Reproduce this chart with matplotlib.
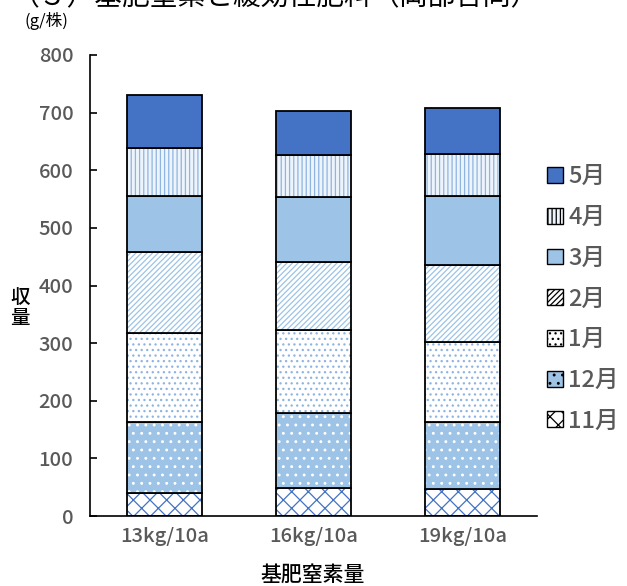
import matplotlib
matplotlib.use("Agg")
import matplotlib.pyplot as plt
from matplotlib.patches import Patch

plt.rcParams['font.family'] = ['Noto Sans CJK JP', 'DejaVu Sans']
plt.rcParams['hatch.linewidth'] = 0.9

# データ（g/株）
categories = ["13kg/10a", "16kg/10a", "19kg/10a"]
months = ["11月", "12月", "1月", "2月", "3月", "4月", "5月"]
m11 = [40, 49, 47]
m12 = [123, 130, 116]
m01 = [155, 144, 139]
m02 = [141, 118, 134]
m03 = [97, 113, 120]
m04 = [82, 73, 72]
m05 = [92, 76, 80]
series = [m11, m12, m01, m02, m03, m04, m05]

# 塗りとハッチ（面色, ハッチ, ハッチ色）
styles = [
    ("white", "xx", "#4472C4"),
    ("#9DC3E6", "..", "white"),
    ("white", "...", "#8FB4E0"),
    ("white", "//////", "#9DC3E6"),
    ("#9DC3E6", None, None),
    ("#EEF4FB", "||||", "#8FB4E0"),
    ("#4472C4", None, None),
]

fig = plt.figure(figsize=(6.27, 5.86), dpi=100)
ax = fig.add_axes([90 / 627, 1 - 516 / 586, 447 / 627, 461 / 586])

x = list(range(len(categories)))
bottom = [0] * len(categories)
handles = []
for name, vals, (fc, hatch, hc) in zip(months, series, styles):
    # ハッチ色を別に指定するため二回描く
    ax.bar(x, vals, 0.5, bottom=bottom, color=fc, hatch=hatch,
           edgecolor=hc if hc else fc, linewidth=0)
    ax.bar(x, vals, 0.5, bottom=bottom, fill=False, edgecolor="black", linewidth=1.3)
    bottom = [b + v for b, v in zip(bottom, vals)]
    handles.append(Patch(facecolor=fc, hatch=hatch, edgecolor="black", linewidth=1))

ax.set_xlim(-0.5, 2.5)
ax.set_ylim(0, 800)
ax.set_yticks(range(0, 801, 100))
ax.set_xticks(x)
ax.set_xticklabels(categories)
ax.spines['top'].set_visible(False)
ax.spines['right'].set_visible(False)
ax.spines['left'].set_linewidth(1.2)
ax.spines['bottom'].set_linewidth(1.2)
ax.tick_params(axis='y', direction='in', length=5, width=1.2, colors='black',
               labelcolor='#595959', labelsize=14.5, pad=12)
ax.tick_params(axis='x', length=0, labelcolor='#595959', labelsize=14.5, pad=8)
for lbl in ax.get_xticklabels() + ax.get_yticklabels():
    lbl.set_fontweight('medium')

fig.text(20 / 627, 1 - 308 / 586, "収\n量", fontsize=14, ha='center', va='center',
         linespacing=1.1, fontweight='medium')
fig.text(24 / 627, 1 - 21 / 586, "(g/株)", fontsize=12, ha='left', va='center')
fig.text(313 / 627, 1 - 575 / 586, "基肥窒素量", fontsize=15, ha='center', va='center',
         fontweight='medium')
fig.text(12 / 627, 1 + 3 / 586, "（３）基肥窒素と緩効性肥料（岡部合同）", fontsize=20,
         ha='left', va='center')

leg = fig.legend(handles[::-1], months[::-1], loc='center left',
                 bbox_to_anchor=(526 / 627, 1 - 299 / 586), frameon=False,
                 fontsize=17, handlelength=0.65, handleheight=0.65, handletextpad=0.25,
                 labelspacing=0.75, labelcolor='#595959')
for t in leg.get_texts():
    t.set_fontweight('medium')

fig.savefig("out.png", dpi=100)
